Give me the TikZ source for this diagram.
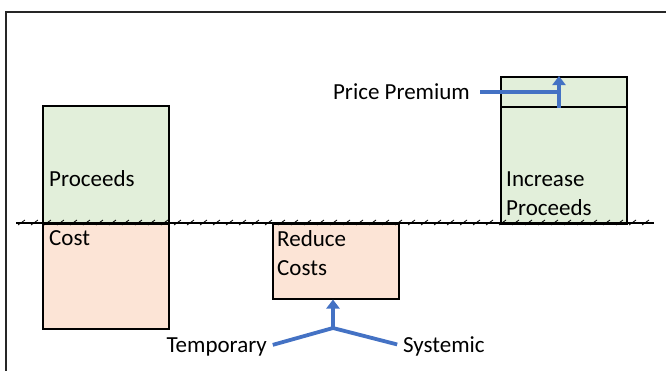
\documentclass[tikz,border=0pt]{standalone}
\usepackage{fontspec}
\setmainfont{Carlito}
\usetikzlibrary{arrows.meta}
\definecolor{gain}{HTML}{E2EFDA}
\definecolor{loss}{HTML}{FCE4D6}
\definecolor{flow}{HTML}{4472C4}

\begin{document}
\begin{tikzpicture}[x=1bp,y=-1bp,
  block/.style={draw,line width=1.5bp,anchor=north west,inner sep=0pt,minimum width=126bp},
  lbl/.style={inner sep=0pt,anchor=base west,align=left,font=\fontsize{23bp}{29bp}\selectfont},
  conn/.style={draw=flow,line width=3.8bp},
  push/.style={conn,-{Triangle[width=13bp,length=9bp]}}]
\useasboundingbox (0,0) rectangle (666,370);
\draw[line width=2bp,black!85] (6,380) |- (680,12);
% boxes above and below the line
\node[block,fill=gain,minimum height=118bp] (proceeds) at (42,105) {};
\node[block,fill=loss,minimum height=105bp] (cost) at (42,223) {};
\node[block,fill=loss,minimum height=75bp] (reduce) at (272,223) {};
\node[block,fill=gain,minimum height=30bp] (premium) at (500,76) {};
\node[block,fill=gain,minimum height=117bp] (increase) at (500,106) {};
% hatched base line
\draw[line width=2bp] (16,223) -- (654,223);
\foreach \x in {18,31,...,648}
  \draw[line width=0.8bp] (\x,225) -- ++(7,-5);
% labels
\node[lbl] (proceedsL) at (49,186) {Proceeds};
\node[lbl] (costL) at (49,245) {Cost};
\node[lbl] (reduceL) at (277,275) {Reduce\\Costs};
\node[lbl] (increaseL) at (506,215) {Increase\\Proceeds};
\node[lbl,anchor=east] (premiumL) at (470,92) {Price Premium};
\node[lbl,anchor=base east] (temporary) at (267,352) {Temporary};
\node[lbl] (systemic) at (403,352) {Systemic};
% arrows
\coordinate (bend) at (559,92);
\coordinate (junc) at (333,328);
\draw[conn,shorten <=10bp] (premiumL.east) -- (bend);
\draw[push] (premium.south -| bend) -- (premium.north -| bend);
\draw[conn,shorten <=6bp,shorten >=-1bp] (temporary.east) -- (junc);
\draw[conn,shorten <=6bp,shorten >=-1bp] (systemic.west) -- (junc);
\draw[push] (junc) -- (reduce.south -| junc);
\end{tikzpicture}
\end{document}
